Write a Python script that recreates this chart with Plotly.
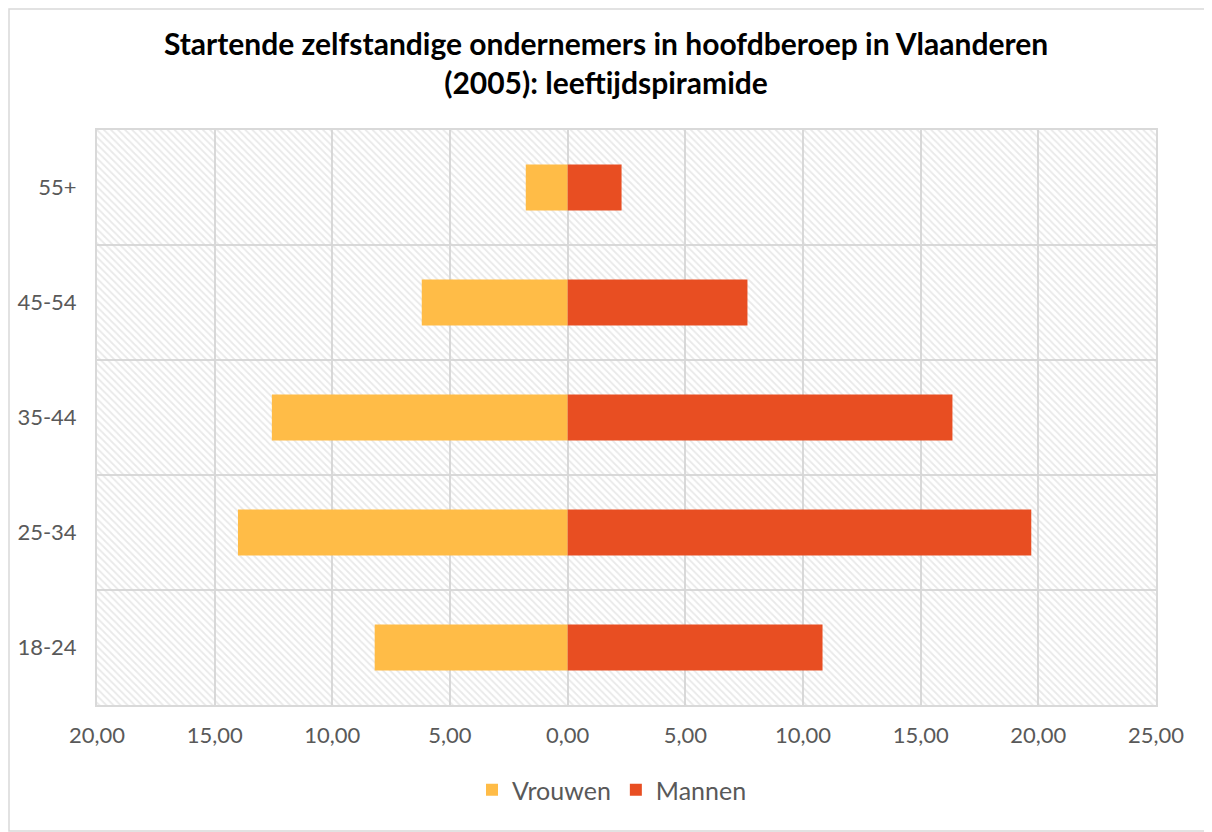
import plotly.graph_objects as go

categories = ["18-24", "25-34", "35-44", "45-54", "55+"]
vrouwen = [8.20, 14.01, 12.57, 6.20, 1.78]
mannen = [10.83, 19.70, 16.35, 7.64, 2.29]
x_ticks = [-20, -15, -10, -5, 0, 5, 10, 15, 20, 25]
x_ticktext = ["20,00", "15,00", "10,00", "5,00", "0,00", "5,00", "10,00", "15,00", "20,00", "25,00"]

x_range = [x_ticks[0], x_ticks[-1]]
ypos = list(range(len(categories)))
y_range = [-0.5, len(categories) - 0.5]

fig = go.Figure()

# hatched plot-area background (drawn first so bars sit above it)
fig.add_trace(go.Bar(
    y=[(y_range[0] + y_range[1]) / 2], x=[x_range[1] - x_range[0]], base=[x_range[0]],
    orientation="h", width=[y_range[1] - y_range[0]],
    marker=dict(color="rgba(255,255,255,0)", line=dict(width=0),
                pattern=dict(shape="\\", fgcolor="#d4d4d4", bgcolor="rgba(255,255,255,0)",
                             size=5, solidity=0.35)),
    hoverinfo="skip", showlegend=False,
))

fig.add_trace(go.Bar(
    y=ypos, x=[-v for v in vrouwen], orientation="h", name="Vrouwen",
    marker=dict(color="#FFBC47", line=dict(width=0)), width=0.4,
))
fig.add_trace(go.Bar(
    y=ypos, x=mannen, orientation="h", name="Mannen",
    marker=dict(color="#E84E22", line=dict(width=0)), width=0.4,
))

# page body has an 8px margin: shift figure geometry to compensate
OFF = 8
W, H = 1212 - OFF, 832 - OFF
ml, mr, mt, mb = 97 - OFF, 56, 130 - OFF, 127
pw, ph = W - ml - mr, H - mt - mb

def px_x(p):
    return (p - OFF - ml) / pw

def px_y(p):
    return (H - mb - (p - OFF)) / ph

fig.update_layout(
    width=W, height=H,
    margin=dict(l=ml, r=mr, t=mt, b=mb, autoexpand=False),
    paper_bgcolor="white", plot_bgcolor="white",
    barmode="overlay",
    font=dict(family="Lato, sans-serif", color="#595959"),
    title=dict(
        text="Startende zelfstandige ondernemers in hoofdberoep in Vlaanderen<br>(2005): leeftijdspiramide",
        x=px_x(606), xanchor="center", xref="paper", y=1 - (55 - OFF) / H, yanchor="middle",
        font=dict(family="Lato, sans-serif", size=30, color="#000000", weight="bold"),
    ),
    xaxis=dict(
        range=x_range, tickvals=x_ticks, ticktext=x_ticktext, automargin=False,
        showgrid=True, gridcolor="#d9d9d9", gridwidth=2,
        zeroline=False, showline=True, linecolor="#d9d9d9", linewidth=2, mirror=True,
        tickfont=dict(size=22, color="#595959"), ticks="", ticklabelstandoff=10,
        fixedrange=True,
    ),
    yaxis=dict(
        range=y_range, tickvals=ypos, ticktext=categories, automargin=False,
        showgrid=False, zeroline=False,
        showline=True, linecolor="#d9d9d9", linewidth=2, mirror=True,
        minor=dict(tick0=0.5, dtick=1, showgrid=True, gridcolor="#d9d9d9", gridwidth=2, ticks=""),
        tickfont=dict(size=22, color="#595959"), ticks="", ticklabelstandoff=14,
        fixedrange=True,
    ),
    legend=dict(
        orientation="h", x=px_x(612), xanchor="center", y=px_y(790), yanchor="middle",
        font=dict(size=25, color="#595959"), itemwidth=30,
    ),
    shapes=[dict(
        type="rect", xref="paper", yref="paper",
        x0=px_x(OFF + 1), x1=px_x(1211), y0=px_y(OFF + 1), y1=px_y(831),
        line=dict(color="#d9d9d9", width=1.5), fillcolor="rgba(0,0,0,0)", layer="below",
    )],
)

fig.write_html("out.html")
